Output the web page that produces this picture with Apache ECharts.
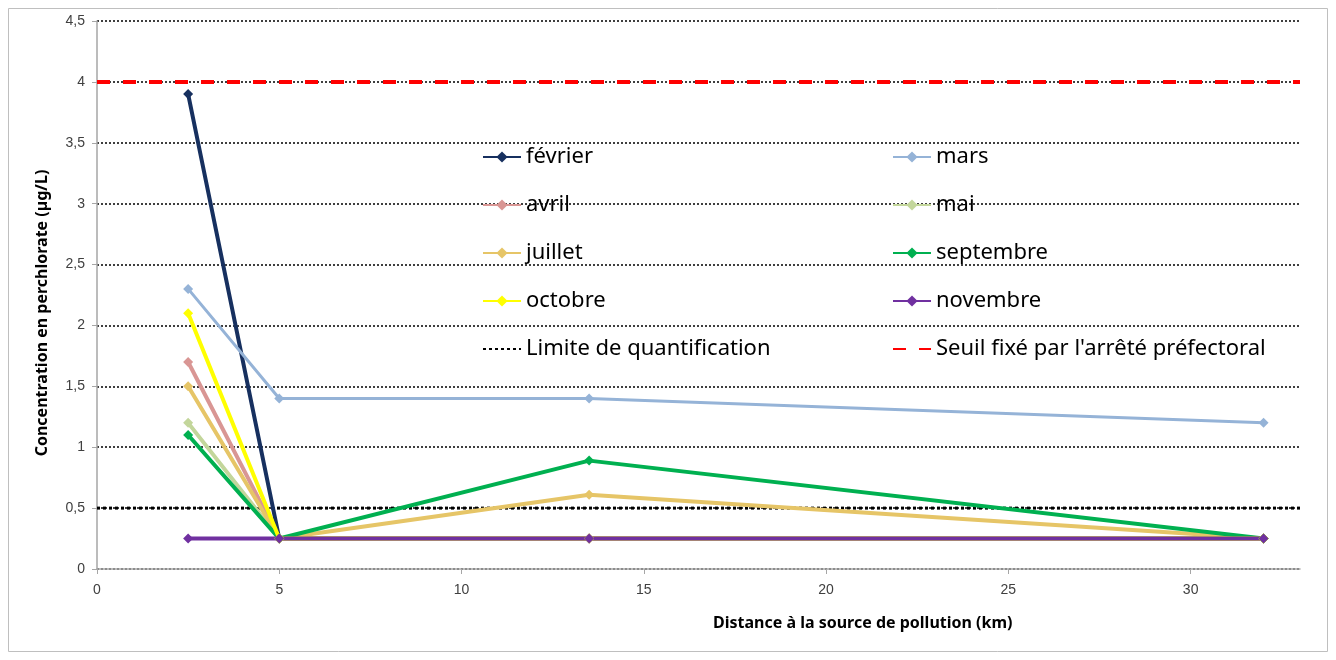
<!DOCTYPE html>
<html><head><meta charset="utf-8">
<script src="https://cdn.jsdelivr.net/npm/echarts@6/dist/echarts.min.js"></script>
<style>html,body{margin:0;padding:0;background:#fff}#c{width:1336px;height:660px}</style>
</head><body><div id="c"></div>
<script>
const distances = [2.5, 5, 13.5, 32];
const fevrier   = [3.9, 0.25, 0.25, 0.25];
const mars      = [2.3, 1.4, 1.4, 1.2];
const avril     = [1.7, 0.25, 0.25, 0.25];
const mai       = [1.2, 0.25, 0.25, 0.25];
const juillet   = [1.5, 0.25, 0.61, 0.25];
const septembre = [1.1, 0.25, 0.89, 0.25];
const octobre   = [2.1, 0.25, 0.25, 0.25];
const novembre  = [0.25, 0.25, 0.25, 0.25];
const limiteQuantif = 0.5;
const seuilPrefectoral = 4;
const xRange = [0, 33];
const yTicks = ['0','0,5','1','1,5','2','2,5','3','3,5','4','4,5'];

const fontFam = '"Liberation Sans", Arial, sans-serif';
const wideFam = '"Noto Sans", "Open Sans", sans-serif';
const pts = arr => distances.map((d, i) => [d, arr[i]]);
function s(name, data, color, width) {
  return { name, type: 'line', data: pts(data), symbol: 'diamond', symbolSize: 10,
    itemStyle: { color }, lineStyle: { color, width: width || 4 }, emphasis: { disabled: true } };
}
const legText = { fontSize: 22, color: '#000', lineHeight: 24, fontFamily: wideFam };
const chart = echarts.init(document.getElementById('c'), null, { renderer: 'canvas' });
chart.setOption({
  animation: false,
  textStyle: { fontFamily: fontFam },
  graphic: [
    { type: 'rect', shape: { x: 8.5, y: 8.5, width: 1319, height: 643 }, style: { fill: 'none', stroke: '#BFBFBF', lineWidth: 1 }, z: -1 },
    { type: 'text', left: 713, top: 615, style: { text: 'Distance à la source de pollution (km)', font: 'bold 16px ' + wideFam, fill: '#000' } },
    { type: 'text', x: 42, y: 313, rotation: Math.PI / 2,
      style: { text: 'Concentration en perchlorate (µg/L)', font: 'bold 16px ' + wideFam, fill: '#000', align: 'center', verticalAlign: 'middle' } }
  ],
  grid: { left: 97, right: 36, top: 21, bottom: 91, containLabel: false },
  legend: [
    { orient: 'vertical', left: 477, top: 140, itemWidth: 38, itemHeight: 14, itemGap: 24,
      textStyle: legText,
      data: ['février', 'avril', 'juillet', 'octobre', { name: 'Limite de quantification', itemStyle: { opacity: 0 } }] },
    { orient: 'vertical', left: 887, top: 140, itemWidth: 38, itemHeight: 14, itemGap: 24,
      textStyle: legText,
      data: ['mars', 'mai', 'septembre', 'novembre', { name: "Seuil fixé par l'arrêté préfectoral", itemStyle: { opacity: 0 } }] }
  ],
  xAxis: {
    type: 'value', min: xRange[0], max: xRange[1], interval: 5,
    axisLine: { lineStyle: { color: '#A6A6A6', width: 1.5 } },
    axisTick: { show: true, length: 5, lineStyle: { color: '#A6A6A6' } },
    axisLabel: { color: '#404040', fontSize: 14, margin: 14, showMaxLabel: false },
    splitLine: { show: false }
  },
  yAxis: {
    type: 'value', min: 0, max: 4.5, interval: 0.5,
    axisLine: { show: true, lineStyle: { color: '#A6A6A6', width: 1.5 } },
    axisTick: { show: true, length: 5, lineStyle: { color: '#A6A6A6' } },
    axisLabel: { color: '#404040', fontSize: 14, margin: 12, formatter: (v) => yTicks[Math.round(v * 2)] },
    splitLine: { show: true, lineStyle: { color: '#000', type: [2, 2], width: 1.5 } }
  },
  series: [
    s('février', fevrier, '#17305F'),
    s('mars', mars, '#95B3D7', 3),
    s('avril', avril, '#D99694'),
    s('mai', mai, '#C3D69B'),
    s('juillet', juillet, '#E6C567'),
    s('septembre', septembre, '#00B050'),
    s('octobre', octobre, '#FFFF00'),
    s('novembre', novembre, '#7030A0'),
    { name: 'Limite de quantification', type: 'line', data: [[xRange[0], limiteQuantif], [xRange[1], limiteQuantif]],
      symbol: 'none', itemStyle: { color: '#000' }, lineStyle: { color: '#000', width: 3, type: [3, 3] }, z: 1, emphasis: { disabled: true } },
    { name: "Seuil fixé par l'arrêté préfectoral", type: 'line', data: [[xRange[0], seuilPrefectoral], [xRange[1], seuilPrefectoral]],
      symbol: 'none', itemStyle: { color: '#FF0000' }, lineStyle: { color: '#FF0000', width: 4, type: [13, 13] }, z: 3, emphasis: { disabled: true } }
  ]
});
</script></body></html>
